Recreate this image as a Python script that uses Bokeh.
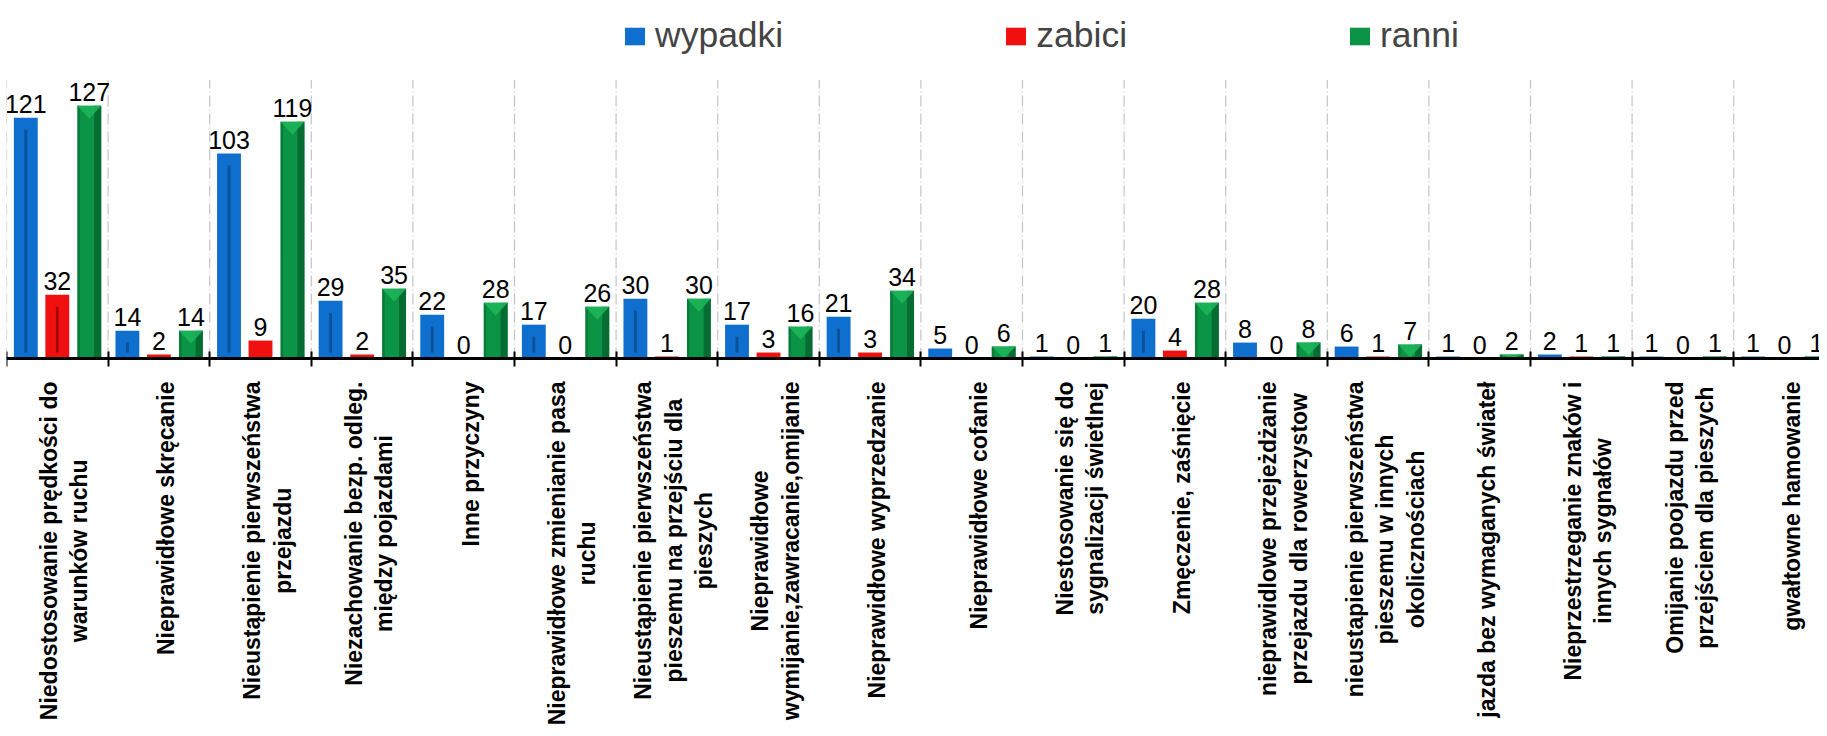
import numpy as np
from bokeh.plotting import figure
from bokeh.models import (Range1d, FixedTicker, LinearAxis, Legend, LegendItem,
                          ColumnDataSource)
from bokeh.core.properties import value
from bokeh.embed import file_html
from bokeh.resources import INLINE

# ---------------- data ----------------
categories = [
    "Niedostosowanie prędkości do\nwarunków ruchu",
    "Nieprawidłowe skręcanie",
    "Nieustąpienie pierwszeństwa\nprzejazdu",
    "Niezachowanie bezp. odleg.\nmiędzy pojazdami",
    "Inne przyczyny",
    "Nieprawidłowe zmienianie pasa\nruchu",
    "Nieustąpienie pierwszeństwa\npieszemu na przejściu dla\npieszych",
    "Nieprawidłowe\nwymijanie,zawracanie,omijanie",
    "Nieprawidłowe wyprzedzanie",
    "Nieprawidłowe cofanie",
    "Niestosowanie się do\nsygnalizacji świetlnej",
    "Zmęczenie, zaśnięcie",
    "nieprawidlowe przejeżdżanie\nprzejazdu dla rowerzystow",
    "nieustapienie pierwszeństwa\npieszemu w innych\nokolicznościach",
    "jazda bez wymaganych świateł",
    "Nieprzestrzeganie znaków i\ninnych sygnałów",
    "Omijanie poojazdu przed\nprzejściem dla pieszych",
    "gwałtowne hamowanie",
]
wypadki = [121, 14, 103, 29, 22, 17, 30, 17, 21, 5, 1, 20, 8, 6, 1, 2, 1, 1]
zabici = [32, 2, 9, 2, 0, 0, 1, 3, 3, 0, 0, 4, 0, 1, 0, 1, 0, 0]
ranni = [127, 14, 119, 35, 28, 26, 30, 16, 34, 6, 1, 28, 8, 7, 2, 1, 1, 1]
series_names = ["wypadki", "zabici", "ranni"]
Y_MAX = 140  # top of the value axis (plot area)

# ---------------- style ----------------
FONT = "Liberation Sans"
BLUE, BLUE_D = "#0f6fce", "#0b4c8e"
RED, RED_D = "#f01010", "#9a0505"
GREEN, GREEN_D, GREEN_L = "#0b9446", "#06602c", "#1db459"
offsets = [0.19, 0.5, 0.815]
BW = 0.235

n = len(categories)
idx = np.arange(n)
PX_PER_UNIT = 1.99
FRAME_H = 728
AXIS_PX = 358  # distance of the value-zero line from the top of the frame

p = figure(frame_width=1813, frame_height=FRAME_H,
           x_range=Range1d(0, 1813 / 101.6),
           y_range=Range1d(-(FRAME_H - AXIS_PX) / PX_PER_UNIT,
                           AXIS_PX / PX_PER_UNIT),
           output_backend="svg", toolbar_location=None,
           x_axis_type=None, y_axis_type=None,
           min_border_left=6, min_border_right=0, min_border_top=0,
           min_border_bottom=0)
p.outline_line_color = None
p.background_fill_color = "white"
p.border_fill_color = "white"

# vertical dashed separators between categories
bounds = np.arange(n + 1).astype(float)
p.segment(x0=bounds, y0=np.zeros(n + 1), x1=bounds, y1=np.full(n + 1, Y_MAX),
          line_color="#c4c4c4", line_width=1.2, line_dash="11 3 1 3")

renderers = []
series = [wypadki, zabici, ranni]
for k, vals in enumerate(series):
    v = np.array(vals, dtype=float)
    xs = idx + offsets[k]
    color = [BLUE, RED, GREEN][k]
    r = p.vbar(x=xs, top=v, bottom=0, width=BW, fill_color=color,
               line_color=None)
    renderers.append(r)
    if k < 2:
        dark = [BLUE_D, RED_D][k]
        top = np.maximum(v - 6.0, 0)
        bot = np.minimum(np.full(n, 3.0), top)
        p.vbar(x=xs, top=top, bottom=bot, width=0.028, fill_color=dark,
               line_color=None, fill_alpha=0.85)
    else:
        # darker right edge
        p.vbar(x=xs + BW / 2 - 0.035, top=v, bottom=0, width=0.07,
               fill_color=GREEN_D, line_color=None, fill_alpha=0.75)
        p.vbar(x=xs - BW / 2 + 0.012, top=v, bottom=0, width=0.024,
               fill_color=GREEN_D, line_color=None, fill_alpha=0.5)
        # bevelled top triangle
        tri_h = 6.5
        xs_list, ys_list = [], []
        for xi, vi in zip(xs, v):
            if vi <= 0:
                continue
            xs_list.append([xi - BW / 2, xi + BW / 2, xi])
            ys_list.append([vi, vi, max(vi - tri_h, 0)])
        p.patches(xs_list, ys_list, fill_color=GREEN_L, line_color=None,
                  fill_alpha=0.9)

    # value labels
    src = ColumnDataSource(dict(x=xs, y=v, t=[str(int(a)) for a in vals]))
    p.text(x="x", y="y", text="t", source=src, text_align="center",
           text_baseline="alphabetic", y_offset=-14,
           text_font=value(FONT), text_font_size="25px", text_color="black")

# category labels (rotated, lines centred, block hanging below the axis)
lab_src = ColumnDataSource(dict(x=idx + 0.5, y=np.zeros(n), t=categories))
p.text(x="x", y="y", text="t", source=lab_src, angle=np.pi / 2,
       anchor="center_right", text_align="center", text_baseline="middle",
       x_offset=7, y_offset=23, text_font=value(FONT),
       text_font_size="23px", text_font_style="bold", text_color="black",
       text_line_height=1.17)

# axis line with tick marks at the category boundaries
xaxis = LinearAxis(
    fixed_location=0,
    ticker=FixedTicker(ticks=[], minor_ticks=list(bounds)),
    major_label_text_font_size="0px",
    major_label_standoff=0,
    major_tick_line_color=None, major_tick_in=0, major_tick_out=0,
    minor_tick_line_color="black", minor_tick_line_width=2,
    minor_tick_in=7, minor_tick_out=8,
    axis_line_color="black", axis_line_width=3,
)
p.add_layout(xaxis, "below")

legend = Legend(
    items=[LegendItem(label=series_names[i], renderers=[renderers[i]])
           for i in range(3)],
    orientation="horizontal", location=(616, FRAME_H - 56),
    glyph_width=25, glyph_height=22, label_standoff=8, spacing=220,
    padding=0, margin=0, border_line_color=None, background_fill_alpha=0,
    label_text_font=FONT, label_text_font_size="35.5px",
)
p.add_layout(legend)

open("out.html", "w").write(file_html(p, INLINE))
